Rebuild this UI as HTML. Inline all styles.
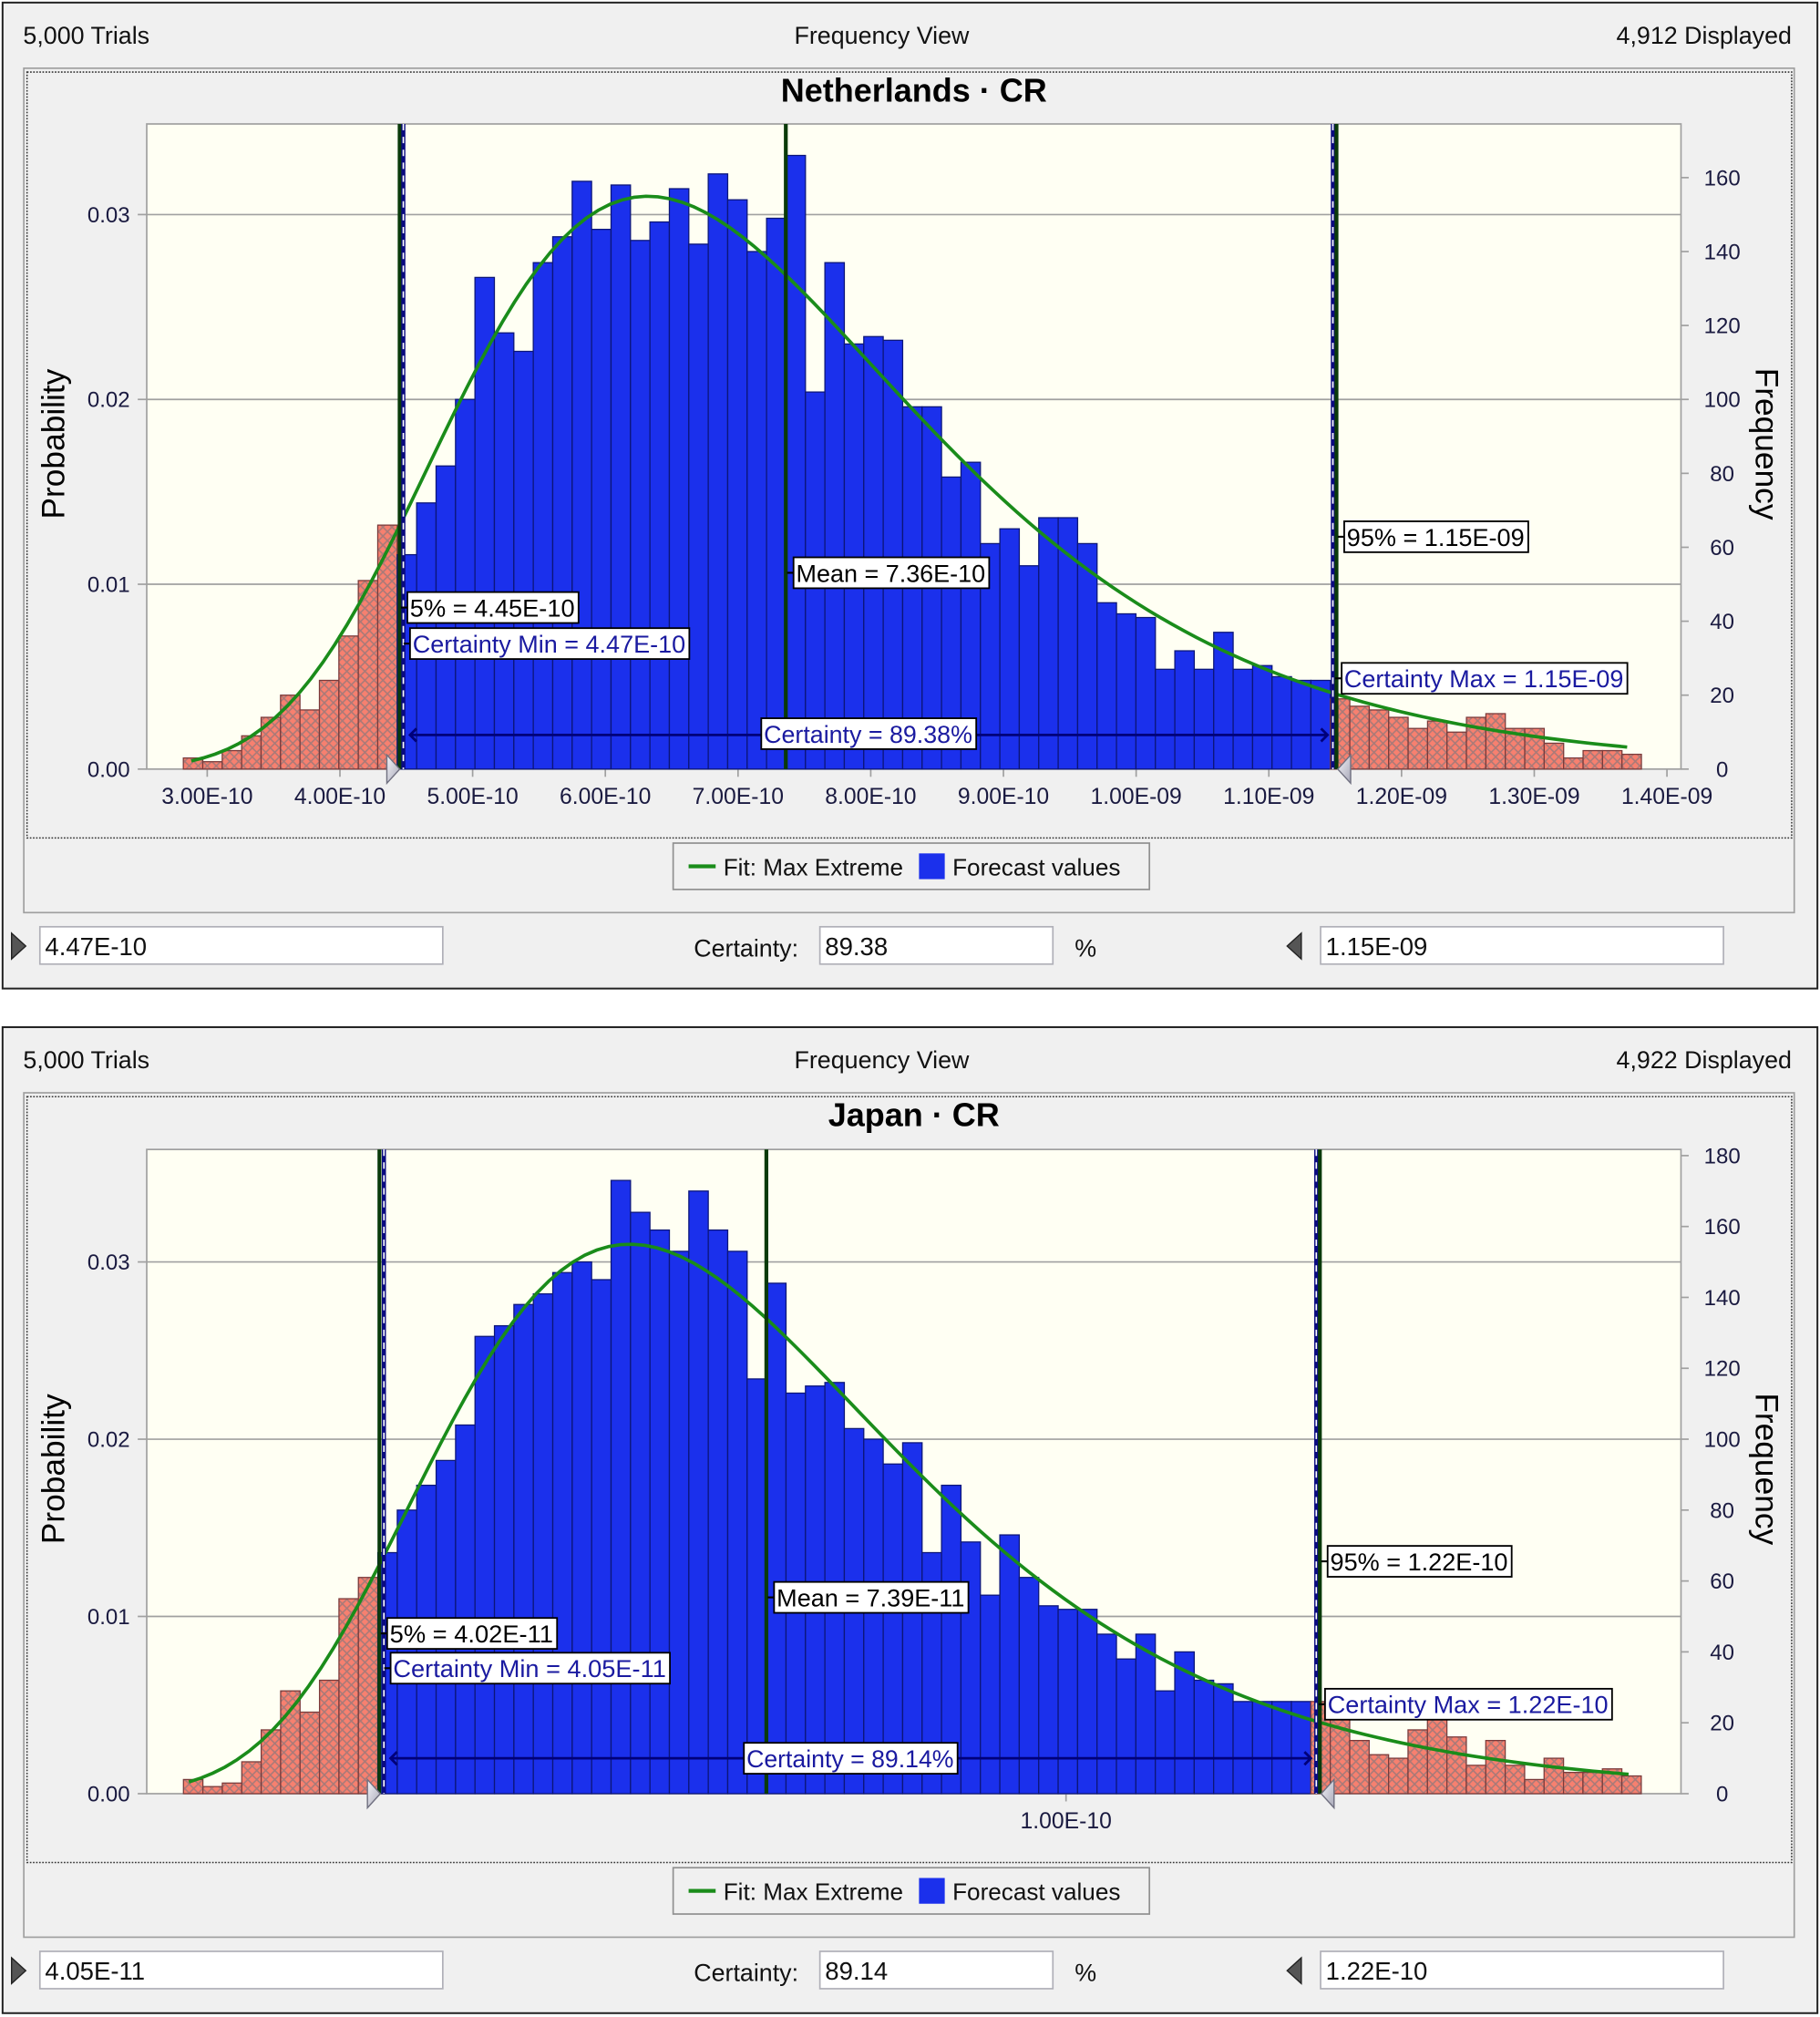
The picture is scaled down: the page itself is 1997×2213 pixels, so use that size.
<!DOCTYPE html>
<html><head><meta charset="utf-8"><style>
html,body{margin:0;padding:0;background:#fff;width:1997px;height:2213px;overflow:hidden}
svg{display:block;font-family:"Liberation Sans",Arial,sans-serif}
</style></head><body>
<svg id="root" width="1997" height="2213" viewBox="0 0 1414 1567" preserveAspectRatio="none" xmlns="http://www.w3.org/2000/svg">
<defs>
<pattern id="hatch" width="7" height="7" patternUnits="userSpaceOnUse">
<rect width="7" height="7" fill="#f7806f"/>
<path d="M0,0 L7,7 M7,0 L0,7" stroke="#a87a78" stroke-width="1.1"/>
</pattern>
<linearGradient id="tri" x1="0" y1="0" x2="1" y2="1"><stop offset="0" stop-color="#f4f4f8"/><stop offset="1" stop-color="#a8a8b8"/></linearGradient>
</defs>
</svg>
<script>
// ---------- data ----------
const nlCounts=[3,2,5,9,14,20,16,24,36,51,66,58,72,82,100,133,118,113,137,144,159,146,158,143,148,157,142,161,154,140,149,166,102,137,115,117,116,98,98,79,83,61,65,55,68,68,61,45,42,41,27,32,27,37,27,28,25,24,24,19,17,16,14,11,13,10,14,15,11,11,7,3,5,5,4];
const jpCounts=[4,2,3,9,18,29,23,32,55,61,68,80,87,94,104,129,132,138,141,147,150,145,173,164,159,153,170,159,153,117,144,113,115,116,103,100,93,99,68,87,71,56,73,61,53,52,52,45,38,45,29,40,32,31,26,26,26,26,26,22,15,11,10,18,22,16,8,15,8,4,10,6,6,7,5];
const nlBinStart=2.82e-10, nlBinWidth=1.465e-11;
const jpBinStart=2.313e-11, jpBinWidth=1.693e-12;
const nlXTickValues=[3e-10,4e-10,5e-10,6e-10,7e-10,8e-10,9e-10,1e-9,1.1e-9,1.2e-9,1.3e-9,1.4e-9];
const nlXTickLabels=["3.00E-10","4.00E-10","5.00E-10","6.00E-10","7.00E-10","8.00E-10","9.00E-10","1.00E-09","1.10E-09","1.20E-09","1.30E-09","1.40E-09"];
const jpXTickValues=[1e-10];
const jpXTickLabels=["1.00E-10"];
const probTickValues=[0,0.01,0.02,0.03];
const probTickLabels=["0.00","0.01","0.02","0.03"];
const nlFreqTicks=[0,20,40,60,80,100,120,140,160];
const jpFreqTicks=[0,20,40,60,80,100,120,140,160,180];
const nlMarkers=[4.45e-10,4.47e-10,7.36e-10,1.15e-9,1.15e-9]; // 5%, certMin, mean, 95%, certMax
const jpMarkers=[4.02e-11,4.05e-11,7.39e-11,1.22e-10,1.22e-10];
const nlFit=[6.32e-10,1.739e-10]; // mode, scale
const jpFit=[6.20e-11,2.009e-11];
const nlFitRange=[2.88e-10,1.37e-9];
const jpFitRange=[2.36e-11,1.49e-10];
const trials=5000;

const NS="http://www.w3.org/2000/svg";
const root=document.getElementById('root');
function mk(tag,attrs,parent,text){const e=document.createElementNS(NS,tag);for(const k in attrs)e.setAttribute(k,attrs[k]);if(text!==undefined)e.textContent=text;(parent||root).appendChild(e);return e;}

function panel(o){
  const T=o.top;
  const g=mk('g',{});
  
  
  const bg=mk('rect',{x:2,y:T+2,width:1410,height:766,fill:'#f0f0f0',stroke:'#202020','stroke-width':1.4},g);
  
  let t=mk('text',{x:18,y:T+34,'font-size':19,fill:'#111'},g,'5,000 Trials');
  
  t=mk('text',{x:685,y:T+34,'font-size':19,fill:'#111','text-anchor':'middle'},g,'Frequency View');
  
  t=mk('text',{x:1392,y:T+34,'font-size':19,fill:'#111','text-anchor':'end'},g,o.displayed);
  
  mk('rect',{x:18.5,y:T+53,width:1375.5,height:656,fill:'none',stroke:'#a0a0a0','stroke-width':1.2},g);
  mk('rect',{x:21,y:T+56,width:1371,height:595,fill:'none',stroke:'#333','stroke-width':1.1,'stroke-dasharray':'1.2,1.2'},g);
  t=mk('text',{x:710,y:T+79,'font-size':25.5,'font-weight':'bold',fill:'#000','text-anchor':'middle'},g,o.title);
  

  const L=114,R=1306,PT=o.plotTop,B=o.base;
  const pa=mk('rect',{x:L,y:PT,width:R-L,height:B-PT,fill:'#fffff3',stroke:'#a0a0a0','stroke-width':1.2},g);
  
  const xs=v=>o.xRefPx+(v-o.xRef)/o.xUnit*o.xUnitPx;
  const ys=c=>B-c*o.pxPerCount;
  probTickValues.forEach((p,i)=>{
    const y=ys(p*trials);
    if(i>0) mk('line',{x1:L,x2:R,y1:y,y2:y,stroke:'#a0a0a0','stroke-width':1.2},g);
    mk('line',{x1:107,x2:L,y1:y,y2:y,stroke:'#a0a0a0','stroke-width':1.2},g);
    const tl=mk('text',{x:101,y:y+6,'font-size':17,fill:'#1a1a40','text-anchor':'end'},g,probTickLabels[i]);
    
    
  });
  o.freqTicks.forEach(f=>{
    const y=ys(f);
    mk('line',{x1:R,x2:R+6,y1:y,y2:y,stroke:'#a0a0a0','stroke-width':1.2},g);
    const tl=mk('text',{x:1338,y:y+6,'font-size':17,fill:'#1a1a40','text-anchor':'middle'},g,String(f));
    
    
  });
  o.xTickValues.forEach((v,i)=>{
    const x=xs(v);
    mk('line',{x1:x,x2:x,y1:B,y2:B+6,stroke:'#a0a0a0','stroke-width':1.2},g);
    const tl=mk('text',{x:x,y:B+27,'font-size':17.5,fill:'#1a1a40','text-anchor':'middle'},g,o.xTickLabels[i]);
    
    
  });
  t=mk('text',{x:0,y:0,'font-size':25,fill:'#000','text-anchor':'middle',transform:`translate(50,${(PT+B)/2-2}) rotate(-90)`},g,'Probability');
  
  t=mk('text',{x:0,y:0,'font-size':25,fill:'#000','text-anchor':'middle',transform:`translate(1364,${(PT+B)/2-2}) rotate(90)`},g,'Frequency');
  

  const m=o.markers;
  o.counts.forEach((c,i)=>{
    const x0=xs(o.binStart+i*o.binWidth), x1=xs(o.binStart+(i+1)*o.binWidth);
    const mid=o.binStart+(i+0.5)*o.binWidth;
    const inside=mid>=m[1]&&mid<=m[4];
    const b=mk('rect',{x:x0,y:ys(c),width:x1-x0,height:c*o.pxPerCount,fill:inside?'#1b30ec':'url(#hatch)',stroke:inside?'#0c1678':'#7a3a3a','stroke-width':0.9},g);
    
    
  });
  let d='';
  const n=120;
  for(let k=0;k<=n;k++){
    const v=o.fitRange[0]+(o.fitRange[1]-o.fitRange[0])*k/n;
    const z=(v-o.fit[0])/o.fit[1];
    const c=trials*o.binWidth/o.fit[1]*Math.exp(-z-Math.exp(-z));
    d+=(k?'L':'M')+xs(v).toFixed(2)+','+ys(c).toFixed(2);
  }
  const fc=mk('path',{d:d,fill:'none',stroke:'#1a8c1a','stroke-width':2.6},g);
  

  const lineDash=(x,name)=>{
    const l1=mk('line',{x1:x,x2:x,y1:PT,y2:B,stroke:'#0a0a80','stroke-width':3.2},g);
    
    mk('line',{x1:x,x2:x,y1:PT,y2:B,stroke:'#fff','stroke-width':1.2,'stroke-dasharray':'5,5'},g);
  };
  const lineSolid=(x,name)=>{
    const l=mk('line',{x1:x,x2:x,y1:PT,y2:B,stroke:'#0a3a0a','stroke-width':3},g);
    
  };
  lineSolid(xs(m[0]),'percentile-5-line');
  lineDash(xs(m[1])+0.8,'certainty-min-line');
  lineSolid(xs(m[2]),'mean-line');
  lineDash(xs(m[4])-1.8,'certainty-max-line');
  lineSolid(xs(m[3])+1,'percentile-95-line');

  const ay=o.arrowY, ax0=xs(m[1])+6, ax1=xs(m[4])-6;
  mk('line',{x1:ax0,x2:ax1,y1:ay,y2:ay,stroke:'#00007a','stroke-width':2},g);
  mk('path',{d:`M${ax0+5},${ay-5}L${ax0},${ay}L${ax0+5},${ay+5}M${ax1-5},${ay-5}L${ax1},${ay}L${ax1-5},${ay+5}`,fill:'none',stroke:'#00007a','stroke-width':2},g);

  const box=(x,y,w,txt,col,name)=>{
    mk('line',{x1:x-5,x2:x,y1:y+12,y2:y+12,stroke:'#000','stroke-width':1.5},g);
    const r=mk('rect',{x:x,y:y,width:w,height:24,fill:'#fff',stroke:'#000','stroke-width':1.3},g);
    
    mk('text',{x:x+2,y:y+19,'font-size':19,fill:col,textLength:w-5,lengthAdjust:'spacingAndGlyphs'},g,txt);
  };
  const bl=o.boxes;
  box(xs(m[0])+6,bl[0][0],bl[0][1],bl[0][2],'#000','percentile-5-label');
  box(xs(m[1])+6,bl[1][0],bl[1][1],bl[1][2],'#1a1aa0','certainty-min-label');
  box(xs(m[2])+6,bl[2][0],bl[2][1],bl[2][2],'#000','mean-label');
  box(xs(m[3])+7,bl[3][0],bl[3][1],bl[3][2],'#000','percentile-95-label');
  box(xs(m[4])+5,bl[4][0],bl[4][1],bl[4][2],'#1a1aa0','certainty-max-label');
  const cx=(xs(m[1])+xs(m[4]))/2, cw=bl[5][1];
  const cr=mk('rect',{x:cx-cw/2,y:bl[5][0],width:cw,height:24,fill:'#fff',stroke:'#000','stroke-width':1.3},g);
  
  mk('text',{x:cx-cw/2+2,y:bl[5][0]+19,'font-size':19,fill:'#1a1aa0',textLength:cw-5,lengthAdjust:'spacingAndGlyphs'},g,bl[5][2]);

  const gx0=xs(m[1]), gx1=xs(m[4]);
  const tr1=mk('path',{d:`M${gx0-12},${B-11}L${gx0-2},${B}L${gx0-12},${B+11}Z`,fill:'url(#tri)',stroke:'#707080','stroke-width':1},g);
  
  const tr2=mk('path',{d:`M${gx1+12},${B-11}L${gx1+2},${B}L${gx1+12},${B+11}Z`,fill:'url(#tri)',stroke:'#707080','stroke-width':1},g);
  

  const lg=mk('g',{},g);
  
  mk('rect',{x:523,y:T+655,width:370,height:36,fill:'#f0f0f0',stroke:'#909090','stroke-width':1.2},lg);
  mk('line',{x1:535,x2:556,y1:T+673,y2:T+673,stroke:'#1a8c1a','stroke-width':3},lg);
  let le=mk('text',{x:562,y:T+680,'font-size':18.5,fill:'#111'},lg,'Fit: Max Extreme');
  
  mk('rect',{x:714,y:T+663,width:20,height:20,fill:'#1b30ec'},lg);
  le=mk('text',{x:740,y:T+680,'font-size':18.5,fill:'#111'},lg,'Forecast values');
  

  const bt=mk('path',{d:`M9,${T+725}L20,${T+735}L9,${T+745}Z`,fill:'#555',stroke:'#222','stroke-width':1},g);
  
  const inp=(x,w,val,name)=>{
    const r=mk('rect',{x:x,y:T+720,width:w,height:29,fill:'#fff',stroke:'#b0b0b8','stroke-width':1.2},g);
    
    mk('text',{x:x+4,y:T+742,'font-size':19.5,fill:'#111'},g,val);
  };
  inp(31,313,o.inputs[0],'certainty-min-input');
  t=mk('text',{x:539,y:T+743,'font-size':19,fill:'#111'},g,'Certainty:');
  
  inp(637,181,o.inputs[1],'certainty-input');
  mk('text',{x:835,y:T+743,'font-size':19,fill:'#111'},g,'%');
  const bt2=mk('path',{d:`M1011,${T+725}L1000,${T+735}L1011,${T+745}Z`,fill:'#555',stroke:'#222','stroke-width':1},g);
  
  inp(1026,313,o.inputs[2],'certainty-max-input');
}

panel({id:'netherlands',top:0,displayed:'4,912 Displayed',title:'Netherlands · CR',plotTop:96.3,base:597.5,pxPerCount:2.872,
  xRef:3e-10,xRefPx:161,xUnit:1e-10,xUnitPx:103.1,freqTicks:nlFreqTicks,xTickValues:nlXTickValues,xTickLabels:nlXTickLabels,
  counts:nlCounts,binStart:nlBinStart,binWidth:nlBinWidth,markers:nlMarkers,fit:nlFit,fitRange:nlFitRange,arrowY:571,
  boxes:[[460,133,'5% = 4.45E-10'],[488,217,'Certainty Min = 4.47E-10'],[433,152,'Mean = 7.36E-10'],[405,143,'95% = 1.15E-09'],[515,222,'Certainty Max = 1.15E-09'],[558,167,'Certainty = 89.38%']],
  inputs:['4.47E-10','89.38','1.15E-09']});
panel({id:'japan',top:796,displayed:'4,922 Displayed',title:'Japan · CR',plotTop:893,base:1393.5,pxPerCount:2.754,
  xRef:7.39e-11,xRefPx:595.4,xUnit:1e-11,xUnitPx:89.2,freqTicks:jpFreqTicks,xTickValues:jpXTickValues,xTickLabels:jpXTickLabels,
  counts:jpCounts,binStart:jpBinStart,binWidth:jpBinWidth,markers:jpMarkers,fit:jpFit,fitRange:jpFitRange,arrowY:1366,
  boxes:[[1257,132,'5% = 4.02E-11'],[1284,217,'Certainty Min = 4.05E-11'],[1229,151,'Mean = 7.39E-11'],[1201,143,'95% = 1.22E-10'],[1312,223,'Certainty Max = 1.22E-10'],[1354,166,'Certainty = 89.14%']],
  inputs:['4.05E-11','89.14','1.22E-10']});
</script>
</body></html>
